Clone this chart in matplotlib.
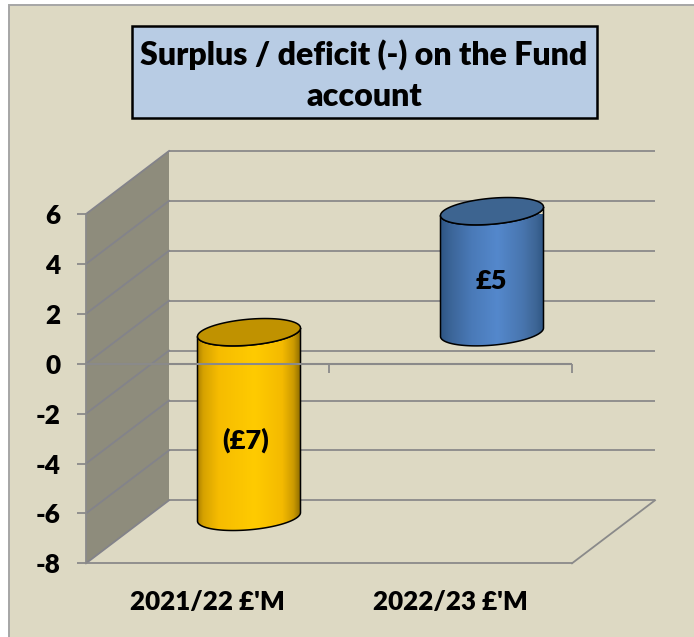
import numpy as np
import matplotlib
matplotlib.use("Agg")
import matplotlib.pyplot as plt
from matplotlib.colors import LinearSegmentedColormap
from matplotlib.patches import Rectangle, Polygon, PathPatch
from matplotlib.path import Path

# ---- data ----
categories = ["2021/22 £'M", "2022/23 £'M"]
values = [-7.4, 4.85]
value_labels = ["(£7)", "£5"]
y_ticks = [6, 4, 2, 0, -2, -4, -6, -8]
title = "Surplus / deficit (-) on the Fund\naccount"

# ---- style ----
W, H = 694, 637
BG = "#DDD9C3"
WALL = "#8E8C7C"
GRID = "#8A8A8A"
WALL_GRID = "#83838A"
FONT = "Lato"
LABEL_WEIGHT = 800
plt.rcParams["font.family"] = [FONT, "DejaVu Sans"]
plt.rcParams["font.weight"] = "bold"

fig = plt.figure(figsize=(W / 100, H / 100), dpi=100, facecolor="white")


def fx(px):
    return px / W


def fy(py):
    return 1 - py / H


# panel background and border (runs off the right and bottom edges)
fig.add_artist(Rectangle((fx(9), fy(H + 5)), 1, fy(5) - fy(H + 5), transform=fig.transFigure,
                         facecolor=BG, edgecolor="#A6A6A6", linewidth=1.4, zorder=-2))

# front plane of the chart
L, R, T, B = 86, 572, 214, 563.3
ax = fig.add_axes([fx(L), fy(B), fx(R) - fx(L), fy(T) - fy(B)])
ax.patch.set_visible(False)
ax.set_xlim(0, 2)
ax.set_ylim(-8, 6)

PX_X = (R - L) / 2
PX_Y = (B - T) / 14
DX = 83 / PX_X     # depth vector, data units
DY = 63 / PX_Y
LW = 1.3

# side wall
ax.add_patch(Polygon([(0, -8), (0, 6), (DX, 6 + DY), (DX, -8 + DY)], closed=True, facecolor=WALL,
                     edgecolor="none", zorder=1, clip_on=False))
# gridlines: back wall and side wall
for v in y_ticks:
    ax.plot([DX, 2 + DX], [v + DY, v + DY], color=GRID, lw=LW, zorder=1.5, clip_on=False,
            solid_capstyle="butt")
    ax.plot([0, DX], [v, v + DY], color=WALL_GRID, lw=LW, zorder=1.5, clip_on=False)
# floor right edge and wall top/back edge
ax.plot([2, 2 + DX], [-8, -8 + DY], color=GRID, lw=LW, zorder=1.5, clip_on=False)

# cylinders
HALF_W = 51.5 / PX_X
SHEAR = 4.25 / PX_Y
MINOR = 13.0 / PX_Y


def rim(xc, yc, t):
    return np.column_stack([xc + HALF_W * np.cos(t), yc + SHEAR * np.cos(t) + MINOR * np.sin(t)])


cyl_styles = [
    dict(stops=[(0, "#B08400"), (0.05, "#D6A200"), (0.20, "#F6BC00"), (0.55, "#FFCB00"),
                (0.82, "#F4BA00"), (0.93, "#CC9A00"), (1, "#8B6A00")], cap="#C09200"),
    dict(stops=[(0, "#2F5685"), (0.10, "#3C6699"), (0.30, "#4A7AB8"), (0.55, "#5488CC"),
                (0.80, "#4875AE"), (0.92, "#3E6696"), (1, "#2F5685")], cap="#3D6490"),
]
for i, (val, st) in enumerate(zip(values, cyl_styles)):
    xc = i + 0.5 + DX / 2
    y0, y1 = DY / 2, val + DY / 2
    top, bot = max(y0, y1), min(y0, y1)
    side = np.vstack([rim(xc, top, np.linspace(np.pi, 2 * np.pi, 80)),
                      rim(xc, bot, np.linspace(0, -np.pi, 80))])
    path = Path(np.vstack([side, side[:1]]), closed=True)
    cmap = LinearSegmentedColormap.from_list(f"c{i}", st["stops"])
    im = ax.imshow(np.linspace(0, 1, 256)[None, :], cmap=cmap, aspect="auto", zorder=2,
                   extent=[xc - HALF_W, xc + HALF_W, bot - 1, top + 1], clip_on=True)
    patch = PathPatch(path, facecolor="none", edgecolor="black", lw=1.1, zorder=2.2, clip_on=False)
    ax.add_patch(patch)
    im.set_clip_path(patch)
    ax.add_patch(Polygon(rim(xc, top, np.linspace(0, 2 * np.pi, 160)), closed=True, facecolor=st["cap"],
                         edgecolor="black", lw=1.1, zorder=2.3, clip_on=False))

ax.set_xlim(0, 2)
ax.set_ylim(-8, 6)

# zero plane line and its category ticks
TICK = 9 / PX_Y
ax.plot([0, 2], [0, 0], color=GRID, lw=LW + 0.2, zorder=3, solid_capstyle="projecting")
for x in [1, 2]:
    ax.plot([x, x], [0, -TICK], color=GRID, lw=LW, zorder=3, clip_on=False, solid_capstyle="butt")

# value labels
label_offsets = [(-3, -15.5), (-1, -9.5)]
for i, (val, txt, off) in enumerate(zip(values, value_labels, label_offsets)):
    ax.annotate(txt, (i + 0.5 + DX / 2, val / 2 + DY / 2), xytext=off, textcoords="offset pixels",
                ha="center", va="center", fontsize=19.5, fontweight=LABEL_WEIGHT, color="black", zorder=4)

# axes
for s in ["top", "right"]:
    ax.spines[s].set_visible(False)
for s in ["left", "bottom"]:
    ax.spines[s].set_color(GRID)
    ax.spines[s].set_linewidth(LW)
    ax.spines[s].set_zorder(2.9)
ax.set_yticks(y_ticks)
ax.set_yticklabels([str(v) for v in y_ticks], fontsize=18.8, fontweight=LABEL_WEIGHT)
ax.tick_params(axis="y", length=6.5, width=LW, color=GRID, pad=12)
ax.set_xticks([0.5, 1.5])
ax.set_xticklabels(categories, fontsize=18.7, fontweight=LABEL_WEIGHT)
ax.tick_params(axis="x", length=0, pad=19)

# title box
fig.add_artist(Rectangle((fx(132), fy(118)), fx(597) - fx(132), fy(26) - fy(118), transform=fig.transFigure,
                         facecolor="#B8CCE4", edgecolor="black", linewidth=1.8))
fig.text(fx(364), fy(75), title, ha="center", va="center", fontsize=23.1, fontweight=LABEL_WEIGHT,
         color="black", linespacing=1.53)

fig.savefig("out.png", dpi=100, facecolor="white")
